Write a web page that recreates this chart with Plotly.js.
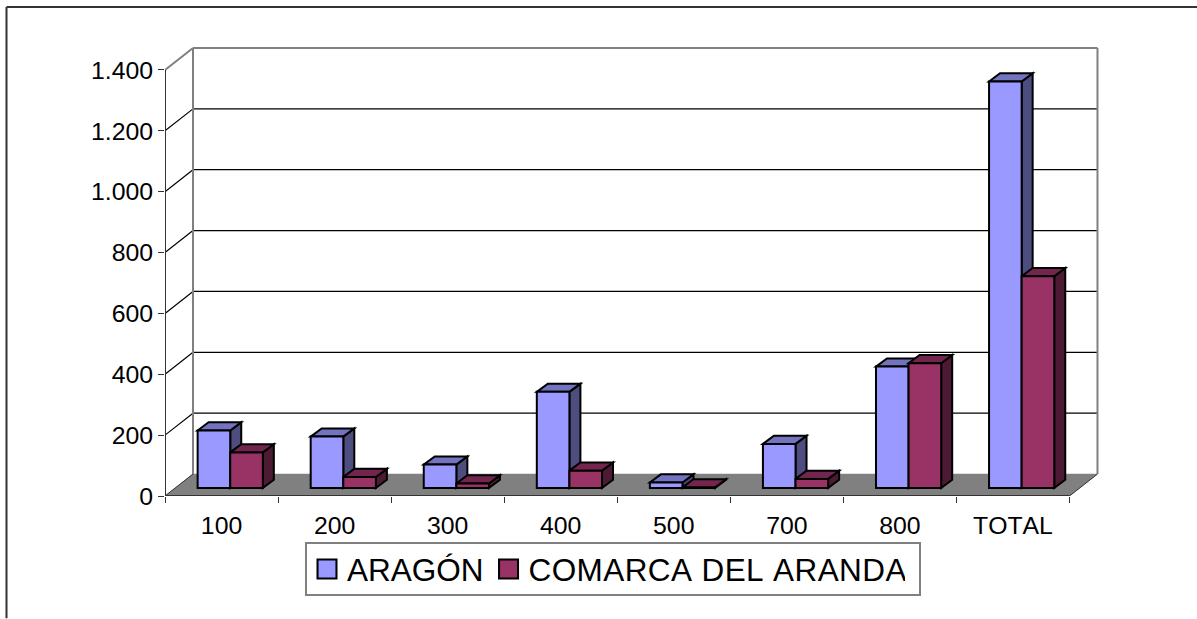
<!DOCTYPE html>
<html>
<head>
<meta charset="utf-8">
<script src="https://cdn.plot.ly/plotly-3.0.1.min.js"></script>
<style>html,body{margin:0;padding:0;background:#fff}#chart{width:1197px;height:619px}text{font-kerning:none}</style>
</head>
<body>
<div id="chart"></div>
<script>
const categories = ["100","200","300","400","500","700","800","TOTAL"];
const aragon = [189,169,77,316,18,145,399,1336];
const comarca = [117,36,15,57,2,30,410,696];
const yTicks = [0,200,400,600,800,1000,1200,1400];

const W = 1197, H = 619;
const plotL = 165, plotR = 1101, plotT = 45, plotB = 496.5;
const pxPerCat = 113.06, pxPerVal = 426.5/1400;
const px2x = p => p/pxPerCat, px2y = p => p/pxPerVal;

const xMin = -0.5, xFront = categories.length-0.5;
const xRange = [xMin, xMin + px2x(plotR-plotL)];
const yRange = [0, px2y(plotB-plotT)];
const yMax = yTicks[yTicks.length-1];

// 3-D projection offsets, in axis units
const wallDx = px2x(28), wallDy = px2y(22);
const barShiftX = px2x(8.7), barBase = px2y(8);
const barW = px2x(32.6);
const depthX = px2x(11), depthY = px2y(8.2);

const GREY = '#808080', INK = '#000000';
const colors = {
  a:{front:'#9999FF', top:'#7373BF', side:'#4D4D80'},
  c:{front:'#993366', top:'#73264D', side:'#4D1A33'}
};

function poly(pts, fill, line, width, layer){
  const path = pts.map((p,i)=>(i?'L':'M')+p[0]+','+p[1]).join(' ')+' Z';
  return {type:'path', xref:'x', yref:'y', path, fillcolor:fill,
          line:{color:line, width:width}, layer:layer||'below'};
}
function seg(x0,y0,x1,y1,color,width){
  return {type:'line', xref:'x', yref:'y', x0,y0,x1,y1, line:{color,width}, layer:'below'};
}
function paperLine(p0,q0,p1,q1){
  return {type:'line', xref:'paper', yref:'paper',
    x0:(p0-plotL)/(plotR-plotL), x1:(p1-plotL)/(plotR-plotL),
    y0:(plotB-q0)/(plotB-plotT), y1:(plotB-q1)/(plotB-plotT),
    line:{color:'#333', width:2}};
}

const shapes = [];
// floor
shapes.push(poly([[xMin,0],[xMin+wallDx,wallDy],[xFront+wallDx,wallDy],[xFront,0]],GREY,GREY,0.5));
// wall gridlines with their diagonal on the side wall
yTicks.forEach(v=>{
  if(v===0) return;
  const top = v===yMax;
  const c = top?GREY:'#000000', w = top?2:1.2;
  shapes.push(seg(xMin,v,xMin+wallDx,v+wallDy,c,w));
  shapes.push(seg(xMin+wallDx,v+wallDy,xFront+wallDx,v+wallDy,c,w));
});
// wall frame
shapes.push(seg(xMin+wallDx,wallDy,xMin+wallDx,yMax+wallDy,GREY,2));
shapes.push(seg(xFront+wallDx,wallDy,xFront+wallDx,yMax+wallDy,GREY,2));
shapes.push(seg(xMin,0,xMin+wallDx,wallDy,'#333333',1));
shapes.push(seg(xFront,0,xFront+wallDx,wallDy,'#333333',1));

// side and top faces, first series behind the second
function faces(values, left, col){
  values.forEach((v,i)=>{
    const x0=i+left, x1=x0+barW, b=barBase, t=barBase+v;
    shapes.push(poly([[x1,b],[x1+depthX,b+depthY],[x1+depthX,t+depthY],[x1,t]],col.side,INK,2));
    shapes.push(poly([[x0,t],[x0+depthX,t+depthY],[x1+depthX,t+depthY],[x1,t]],col.top,INK,2));
  });
}
const leftA = barShiftX-barW, leftC = barShiftX;
faces(aragon,leftA,colors.a);
faces(comarca,leftC,colors.c);

// chart-area frame
shapes.push(paperLine(6.5,7,W,7));
shapes.push(paperLine(6.5,7,6.5,H));

const xs = categories.map((_,i)=>i);
const base = xs.map(()=>barBase);
function bars(name, values, offset, col){
  return {type:'bar', name, x:xs, y:values, base, width:barW, offset,
    marker:{color:col.front, line:{color:INK, width:2}}, hoverinfo:'x+y+name'};
}
const traces = [
  bars('ARAGÓN',aragon,leftA,colors.a),
  bars('COMARCA DEL ARANDA',comarca,leftC,colors.c),
  {type:'scatter',mode:'lines',x:[xMin,xMin],y:[0,yMax],cliponaxis:false,showlegend:false,hoverinfo:'skip',line:{color:'#333333',width:2}},
  {type:'scatter',mode:'lines',x:[xMin,xFront],y:[0,0],cliponaxis:false,showlegend:false,hoverinfo:'skip',line:{color:'#333333',width:2}}
];

const legendTop = 540.5;
const layout = {
  width:W, height:H, autosize:false,
  margin:{l:plotL, r:W-plotR, t:plotT, b:H-plotB, pad:0},
  paper_bgcolor:'#fff', plot_bgcolor:'#fff',
  font:{family:'"Liberation Sans", Arial, sans-serif', color:'#000', size:24},
  separators:',.',
  barmode:'overlay',
  showlegend:true,
  legend:{orientation:'h', xref:'paper', yref:'paper', xanchor:'left', yanchor:'top',
    x:(305-plotL)/(plotR-plotL), y:(plotB-legendTop)/(plotB-plotT),
    bgcolor:'#fff', bordercolor:'#808080', borderwidth:2,
    font:{size:31.5, family:'"Liberation Sans", Arial, sans-serif'}},
  xaxis:{type:'linear', range:xRange, tickmode:'array', tickvals:xs, ticktext:categories,
    ticks:'', showgrid:false, zeroline:false, showline:false, tickangle:0, ticklabelstandoff:12,
    minor:{tickmode:'linear', tick0:xMin, dtick:1, ticks:'outside', ticklen:6, tickwidth:1, tickcolor:'#333333', showgrid:false},
    tickfont:{size:24.8}},
  yaxis:{type:'linear', range:yRange, tickmode:'array', tickvals:yTicks, tickformat:',d',
    ticks:'outside', ticklen:6, tickwidth:1, tickcolor:'#333333',
    showgrid:false, zeroline:false, showline:false, tickfont:{size:24.8}},
  shapes
};
function polish(gd){
  gd.querySelectorAll('.legendpoints path').forEach(p=>{
    const t = p.getAttribute('transform')||'';
    if(!/scale/.test(t)) p.setAttribute('transform',t+' scale(1.58)');
    p.style.strokeWidth='1.3px';
  });
  const texts = gd.querySelectorAll('.legendtext');
  if(texts[1]) texts[1].style.letterSpacing='0.4px';
  const bg = gd.querySelector('.legend .bg');
  if(bg){
    const h = parseFloat(bg.getAttribute('height'));
    const y = parseFloat(bg.getAttribute('y')||0);
    if(h>53){
      bg.setAttribute('y', y+(h-52)/2);
      bg.setAttribute('height', 52);
      bg.setAttribute('width', 614);
    }
  }
}
Plotly.newPlot('chart',traces,layout,{displayModeBar:false,staticPlot:true}).then(polish);
</script>
</body>
</html>
